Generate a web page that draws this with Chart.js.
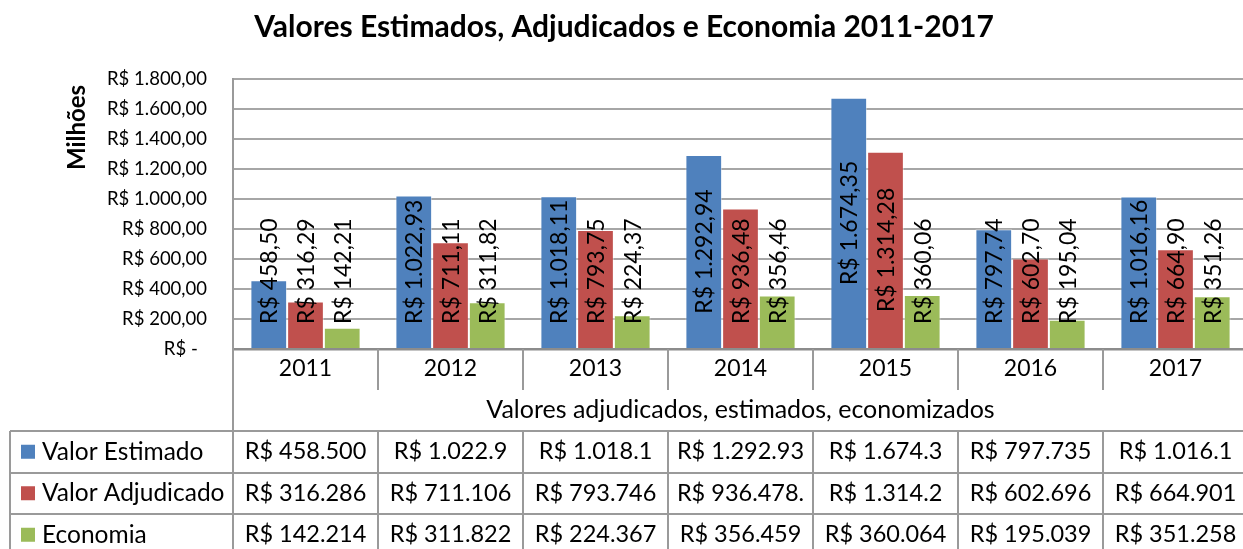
<!DOCTYPE html>
<html>
<head>
<meta charset="utf-8">
<script src="https://cdn.jsdelivr.net/npm/chart.js@4.4.1/dist/chart.umd.min.js"></script>
<style>
  body { margin: 0; background: #fff; }
  #wrap { width: 1243px; height: 549px; overflow: hidden; }
</style>
</head>
<body>
<div id="wrap"><canvas id="chart" width="1252" height="549"></canvas></div>
<script>
// valores em milhões de reais
const years = ["2011", "2012", "2013", "2014", "2015", "2016", "2017"];
const estimado = [458.50, 1022.93, 1018.11, 1292.94, 1674.35, 797.74, 1016.16];
const adjudicado = [316.29, 711.11, 793.75, 936.48, 1314.28, 602.70, 664.90];
const economia = [142.21, 311.82, 224.37, 356.46, 360.06, 195.04, 351.26];

// textos da tabela de dados (cortados como no original)
const tableEstimado = ["R$ 458.500", "R$ 1.022.9", "R$ 1.018.1", "R$ 1.292.93", "R$ 1.674.3", "R$ 797.735", "R$ 1.016.1"];
const tableAdjudicado = ["R$ 316.286", "R$ 711.106", "R$ 793.746", "R$ 936.478.", "R$ 1.314.2", "R$ 602.696", "R$ 664.901"];
const tableEconomia = ["R$ 142.214", "R$ 311.822", "R$ 224.367", "R$ 356.459", "R$ 360.064", "R$ 195.039", "R$ 351.258"];

const seriesNames = ["Valor Estimado", "Valor Adjudicado", "Economia"];
const seriesColors = ["#4F81BD", "#C0504D", "#9BBB59"];

const FONT = "Lato, 'Open Sans', sans-serif";

function brl(v) {
    if (v === 0) return "R$ -\u2002";
    let parts = v.toFixed(2).split(".");
    let int = parts[0].replace(/\B(?=(\d{3})+(?!\d))/g, ".");
    return "R$ " + int + "," + parts[1];
}

// rótulos verticais das barras
const barLabels = {
    id: "barLabels",
    afterDatasetsDraw(chart) {
        const ctx = chart.ctx;
        ctx.save();
        ctx.font = "23px " + FONT;
        ctx.fillStyle = "#000";
        ctx.textAlign = "center";
        ctx.textBaseline = "middle";
        chart.data.datasets.forEach((ds, i) => {
            chart.getDatasetMeta(i).data.forEach((bar, j) => {
                let text = brl(ds.data[j]);
                let w = ctx.measureText(text).width;
                let cy = Math.min((bar.y + bar.base) / 2, bar.base - 24 - w / 2);
                ctx.save();
                ctx.translate(bar.x + 1, cy);
                ctx.rotate(-Math.PI / 2);
                ctx.fillText(text, 0, 0);
                ctx.restore();
            });
        });
        ctx.restore();
    }
};

// tabela de dados abaixo do eixo
const dataTable = {
    id: "dataTable",
    afterDraw(chart) {
        const ctx = chart.ctx;
        const area = chart.chartArea;
        const x = chart.scales.x;
        const half = (x.getPixelForValue(1) - x.getPixelForValue(0)) / 2;
        const rowTop = 431, rowH = 41.5;
        const rows = [tableEstimado, tableAdjudicado, tableEconomia];
        const bottom = chart.height + 10;

        ctx.save();
        ctx.strokeStyle = "#9a9a9a";
        ctx.lineWidth = 2;
        // separadores das categorias
        for (let i = 1; i < years.length; i++) {
            let px = Math.round(x.getPixelForValue(i) - half);
            ctx.beginPath();
            ctx.moveTo(px, area.bottom);
            ctx.lineTo(px, 390);
            ctx.moveTo(px, rowTop);
            ctx.lineTo(px, bottom);
            ctx.stroke();
        }
        ctx.beginPath();
        ctx.moveTo(area.left, area.bottom);
        ctx.lineTo(area.left, bottom);
        ctx.moveTo(10, rowTop);
        ctx.lineTo(10, bottom);
        ctx.stroke();
        for (let r = 0; r <= rows.length; r++) {
            let py = Math.round(rowTop + r * rowH);
            ctx.beginPath();
            ctx.moveTo(10, py);
            ctx.lineTo(area.right, py);
            ctx.stroke();
        }

        ctx.fillStyle = "#000";
        ctx.textBaseline = "middle";
        ctx.font = "25px " + FONT;
        ctx.textAlign = "center";
        ctx.fillText("Valores adjudicados, estimados, economizados", (area.left + area.right) / 2, 410);

        rows.forEach((row, r) => {
            let cy = rowTop + r * rowH + rowH / 2;
            ctx.fillStyle = seriesColors[r];
            ctx.fillRect(21, cy - 7, 14, 14);
            ctx.fillStyle = "#000";
            ctx.textAlign = "left";
            ctx.font = "24.5px " + FONT;
            ctx.fillText(seriesNames[r], 42, cy);
            ctx.textAlign = "center";
            ctx.font = "23.5px " + FONT;
            row.forEach((t, j) => {
                ctx.fillText(t, x.getPixelForValue(j), cy);
            });
        });
        ctx.restore();
    }
};

new Chart(document.getElementById("chart"), {
    type: "bar",
    data: {
        labels: years,
        datasets: [
            { label: seriesNames[0], data: estimado, backgroundColor: seriesColors[0] },
            { label: seriesNames[1], data: adjudicado, backgroundColor: seriesColors[1] },
            { label: seriesNames[2], data: economia, backgroundColor: seriesColors[2] }
        ]
    },
    options: {
        responsive: false,
        animation: false,
        layout: { padding: { left: 0, right: 4, top: 0, bottom: 0 } },
        datasets: {
            bar: {
                categoryPercentage: 0.76,
                barPercentage: 1,
                borderWidth: 1,
                borderColor: "rgba(255,255,255,0.45)"
            }
        },
        plugins: {
            legend: { display: false },
            tooltip: { enabled: false },
            title: {
                display: true,
                text: "Valores Estimados, Adjudicados e Economia 2011-2017",
                color: "#000",
                font: { family: FONT, size: 30, weight: "bold" },
                padding: { top: 9, bottom: 34 }
            }
        },
        scales: {
            x: {
                offset: true,
                grid: { display: false, drawTicks: false },
                border: { display: true, color: "#8c8c8c", width: 2.5 },
                ticks: { color: "#000", font: { family: FONT, size: 23 }, padding: 6 },
                afterFit(scale) { scale.height = 200; }
            },
            y: {
                min: 0,
                max: 1800,
                ticks: {
                    stepSize: 200,
                    color: "#000",
                    font: { family: FONT, size: 18.5 },
                    padding: 26,
                    callback: (v) => brl(v)
                },
                grid: { color: "#a6a6a6", lineWidth: 2, drawTicks: false },
                border: { display: true, color: "#9a9a9a", width: 2 },
                title: {
                    display: true,
                    text: "Milhões ",
                    align: "end",
                    color: "#000",
                    font: { family: FONT, size: 24, weight: "bold" },
                    padding: { top: 63, bottom: 0 }
                },
                afterFit(scale) { scale.width = 233; }
            }
        }
    },
    plugins: [barLabels, dataTable]
});
</script>
</body>
</html>
